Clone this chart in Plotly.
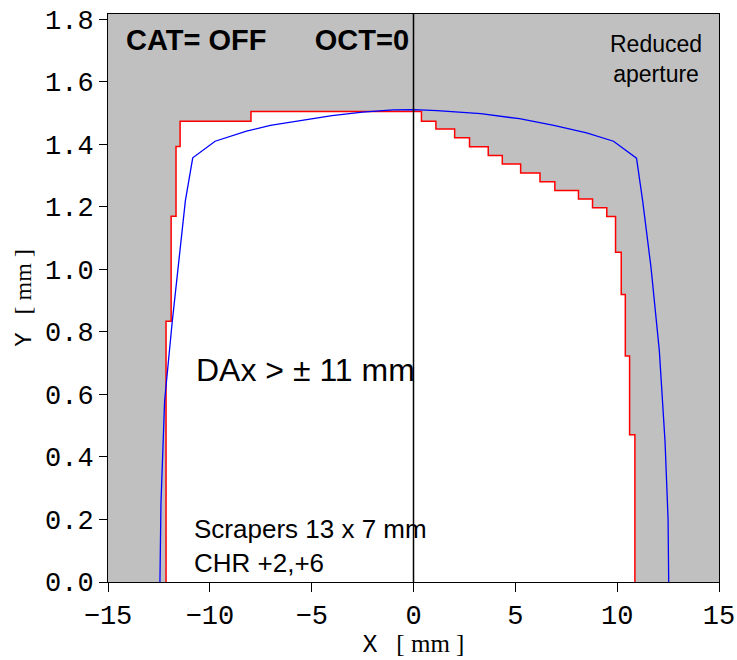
import plotly.graph_objects as go

# Red stepped aperture: corner points joined vertically-then-horizontally
red_x = [-12.15, -11.90, -11.66, -11.46, -7.98, 0.39, 1.10, 2.02, 2.75, 3.67, 4.36,
         5.26, 6.21, 6.94, 8.10, 8.79, 9.49, 9.92, 10.20, 10.40, 10.61, 10.87, 10.87]
red_y = [0.0, 0.834, 1.170, 1.393, 1.474, 1.505, 1.474, 1.449, 1.421, 1.392, 1.364,
         1.337, 1.308, 1.280, 1.252, 1.225, 1.197, 1.169, 1.055, 0.920, 0.723, 0.471, 0.0]

# Blue dynamic aperture curve
blue_x = [-12.45, -12.40, -12.22, -11.85, -11.20, -10.84, -9.74, -8.2, -7.03, -5.56,
          -4.0, -2.5, -1.0, 0.0, 1.16, 3.30, 5.2, 6.89, 8.5, 9.82, 10.95, 11.25,
          11.66, 12.07, 12.35, 12.50, 12.53]
blue_y = [0.0, 0.25, 0.58, 0.83, 1.22, 1.357, 1.410, 1.442, 1.461, 1.477,
          1.492, 1.503, 1.510, 1.511, 1.508, 1.498, 1.482, 1.461, 1.437, 1.410, 1.356, 1.22,
          1.007, 0.74, 0.45, 0.20, 0.0]

x_ticks = [-15, -10, -5, 0, 5, 10, 15]
y_ticks = [0.0, 0.2, 0.4, 0.6, 0.8, 1.0, 1.2, 1.4, 1.6, 1.8]


def expand_vh(xs, ys):
    ox, oy = [xs[0]], [ys[0]]
    for i in range(1, len(xs)):
        ox.append(xs[i - 1]); oy.append(ys[i])
        ox.append(xs[i]); oy.append(ys[i])
    return ox, oy


sx, sy = expand_vh(red_x, red_y)

fig = go.Figure()
fig.add_trace(go.Scatter(x=sx, y=sy, mode="lines", fill="toself", fillcolor="white",
                         line=dict(width=0), hoverinfo="skip", showlegend=False))
fig.add_trace(go.Scatter(x=sx, y=sy, mode="lines", line=dict(color="#ff0000", width=1.5),
                         showlegend=False))
fig.add_trace(go.Scatter(x=blue_x, y=blue_y, mode="lines", line=dict(color="#0000ff", width=1.3),
                         showlegend=False))

fig.add_shape(type="line", xref="x", yref="paper", x0=0, x1=0, y0=0, y1=1,
              line=dict(color="black", width=1.5))

txt = dict(family="Liberation Sans, Arial", color="black")
fig.add_annotation(x=-14.2, y=1.735, xref="x", yref="y", xanchor="left", yanchor="middle",
                   text="<b>CAT= OFF      OCT=0</b>", showarrow=False, font=dict(size=29, **txt))
fig.add_annotation(x=11.9, y=1.673, xref="x", yref="y", xanchor="center", yanchor="middle",
                   text="Reduced<br>aperture", showarrow=False, font=dict(size=23, **txt))
fig.add_annotation(x=-10.8, y=0.677, xref="x", yref="y", xanchor="left", yanchor="middle",
                   text="DAx > ± 11 mm", showarrow=False, font=dict(size=32, **txt))
fig.add_annotation(x=-10.9, y=0.115, xref="x", yref="y", xanchor="left", yanchor="middle",
                   text="Scrapers 13 x 7 mm<br>CHR +2,+6", align="left", showarrow=False,
                   font=dict(size=26, **txt))

mono = dict(family="Liberation Mono, Courier New, monospace", size=27, color="black")
title_txt_x = ("<span style='font-family:Liberation Mono'>X</span>"
               "<span style='font-family:Liberation Serif'>   [ mm ]</span>")
title_txt_y = ("<span style='font-family:Liberation Mono'>Y</span>"
               "<span style='font-family:Liberation Serif'>   [ mm ]</span>")

fig.update_layout(
    width=737, height=660,
    margin=dict(l=108, r=18, t=14, b=78),
    paper_bgcolor="white", plot_bgcolor="#c0c0c0",
    xaxis=dict(range=[-15, 15], tickvals=x_ticks, ticks="outside", ticklen=9, tickcolor="black",
               showline=True, linecolor="black", linewidth=1, mirror=True, showgrid=False,
               zeroline=False, tickfont=mono, automargin=False,
               title=dict(text=title_txt_x, font=dict(size=25, color="black"), standoff=4)),
    yaxis=dict(range=[0, 1.817], tickvals=y_ticks, tickformat=".1f", ticks="outside", ticklen=8,
               tickcolor="black", showline=True, linecolor="black", linewidth=1, mirror=True,
               showgrid=False, zeroline=False, tickfont=mono, automargin=False,
               title=dict(text=title_txt_y, font=dict(size=24, color="black"), standoff=6)),
)

fig.write_html("out.html")
